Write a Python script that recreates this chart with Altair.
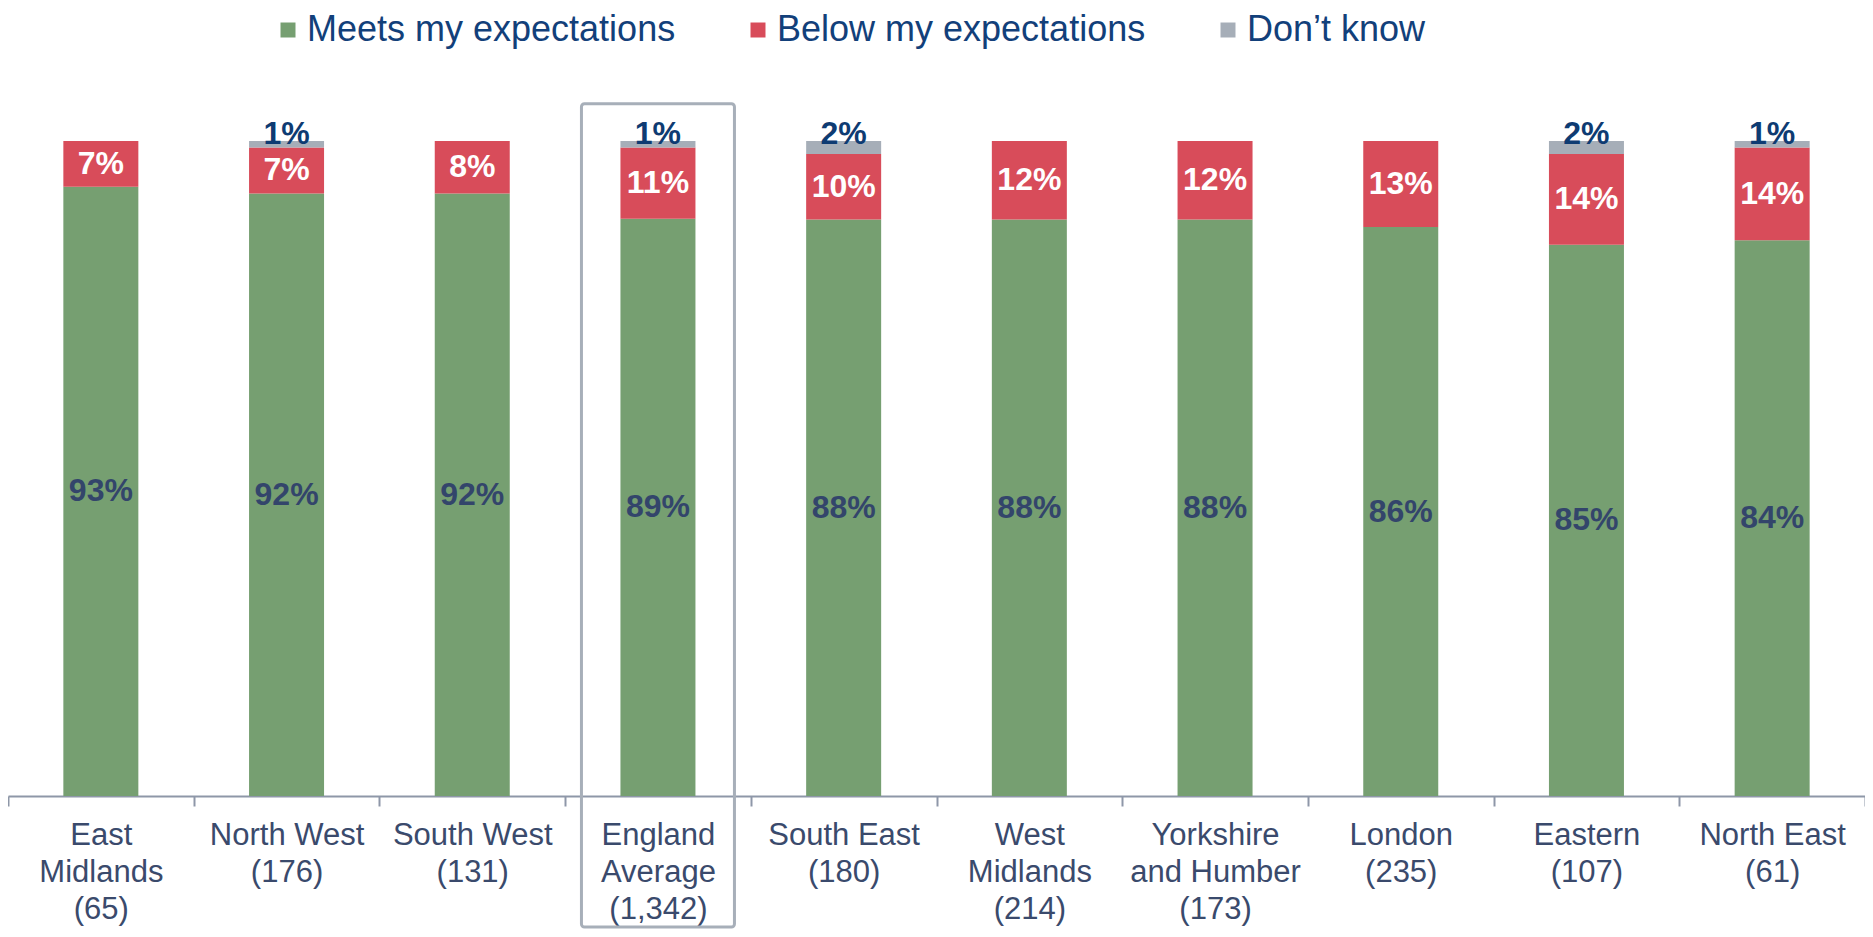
import altair as alt
import pandas as pd

# ---- data ----
regions = [
    "East|Midlands|(65)",
    "North West|(176)",
    "South West|(131)",
    "England|Average|(1,342)",
    "South East|(180)",
    "West|Midlands|(214)",
    "Yorkshire|and Humber|(173)",
    "London|(235)",
    "Eastern|(107)",
    "North East|(61)",
]
meets = [93, 92, 92, 89, 88, 88, 88, 86, 85, 84]
below = [7, 7, 8, 11, 10, 12, 12, 13, 14, 14]
dont_know = [0, 1, 0, 1, 2, 0, 0, 0, 2, 1]

categories = ["Meets my expectations", "Below my expectations", "Don\u2019t know"]
colors = ["#769F71", "#D84C5A", "#A6AEB8"]

highlight_region = "England|Average|(1,342)"
highlight_top = 1.057
highlight_bottom = -0.2

# ---- tables ----
rows = []
for i, r in enumerate(regions):
    for k, (cat, vals) in enumerate(zip(categories, [meets, below, dont_know])):
        rows.append({"region": r, "category": cat, "value": vals[i], "ord": k})
df = pd.DataFrame(rows)
box_df = pd.DataFrame([{"region": highlight_region, "top": highlight_top, "bottom": highlight_bottom}])

FONT = "Liberation Sans"
yscale = alt.Scale(domain=[0, 1], nice=False, zero=True)

xenc = alt.X(
    "region:N",
    sort=regions,
    title=None,
    scale=alt.Scale(paddingInner=0, paddingOuter=0),
    axis=alt.Axis(
        labelExpr="split(datum.label, '|')",
        labelAngle=0,
        labelFont=FONT,
        labelFontSize=31,
        labelColor="#3A4A6C",
        labelLineHeight=37,
        labelBaseline="top",
        labelPadding=14,
        labelLimit=400,
        labelOverlap=False,
        labelBound=False,
        domainColor="#8E97A8",
        domainWidth=2,
        tickColor="#8E97A8",
        tickWidth=2,
        tickSize=10,
        tickBand="extent",
        grid=False,
    ),
)

bars = alt.Chart(df).mark_bar(size=75).encode(
    x=xenc,
    y=alt.Y("value:Q", stack="normalize", scale=yscale, axis=None),
    color=alt.Color(
        "category:N",
        scale=alt.Scale(domain=categories, range=colors),
        legend=alt.Legend(
            title=None,
            orient="none",
            direction="horizontal",
            legendX=262,
            legendY=-129,
            symbolType="square",
            symbolSize=225,
            symbolStrokeWidth=0,
            labelFont=FONT,
            labelFontSize=36,
            labelColor="#12407A",
            labelOffset=1,
            columnPadding=64,
            labelLimit=600,
            padding=0,
        ),
    ),
    order=alt.Order("ord:Q"),
)

box = alt.Chart(box_df).mark_bar(
    size=153, filled=False, stroke="#A7AFB9", strokeWidth=3, cornerRadius=3
).encode(
    x=xenc,
    y=alt.Y("top:Q", scale=yscale, axis=None),
    y2="bottom:Q",
)

lab = alt.Chart(df).transform_stack(
    stack="value",
    groupby=["region"],
    as_=["y0", "y1"],
    offset="normalize",
    sort=[alt.SortField("ord", order="ascending")],
).transform_calculate(
    ymid="(datum.y0 + datum.y1) / 2",
    label="datum.value + '%'",
)

green_lab = lab.transform_filter(alt.datum.ord == 0).mark_text(
    font=FONT, fontSize=32, fontWeight="bold", color="#33456B", baseline="middle"
).encode(x=xenc, y=alt.Y("ymid:Q", scale=yscale, axis=None), text="label:N")

red_lab = lab.transform_filter(alt.datum.ord == 1).mark_text(
    font=FONT, fontSize=32, fontWeight="bold", color="#FFFFFF", baseline="middle"
).encode(x=xenc, y=alt.Y("ymid:Q", scale=yscale, axis=None), text="label:N")

grey_lab = lab.transform_filter((alt.datum.ord == 2) & (alt.datum.value > 0)).mark_text(
    font=FONT, fontSize=32, fontWeight="bold", color="#0E3B72", baseline="alphabetic", dy=3
).encode(x=xenc, y=alt.Y("y1:Q", scale=yscale, axis=None), text="label:N")

chart = alt.layer(box, bars, green_lab, red_lab, grey_lab).properties(
    width=1857,
    height=655,
    autosize=alt.AutoSizeParams(type="none"),
    padding={"left": 0, "right": 0, "top": 133, "bottom": 133},
).configure(background="white").configure_view(stroke=None)

chart.save("out.html", embed_options={"renderer": "svg", "actions": False})
